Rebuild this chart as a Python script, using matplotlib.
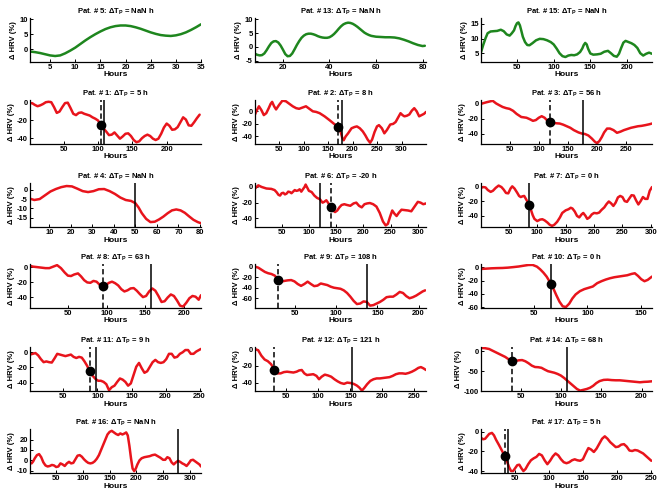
import matplotlib
matplotlib.use("Agg")
import matplotlib.pyplot as plt

plt.rcParams['font.family'] = ['Liberation Sans', 'DejaVu Sans']
plt.rcParams['font.weight'] = 'bold'
plt.rcParams['axes.unicode_minus'] = False

# ---------------- data ----------------
h5 = [1, 2, 3, 4, 5, 6, 7, 8, 9, 10, 11, 12, 13, 14, 15, 16, 17, 18, 19, 20,
      21, 22, 23, 24, 25, 26, 27, 28, 29, 30, 31, 32, 33, 34, 35]
y5 = [-0.7, -0.9, -1.2, -1.6, -2.0, -2.2, -2.0, -1.3, -0.4, 0.6, 1.8, 3.0, 4.1, 5.1, 6.0, 6.8, 7.4, 7.8, 8.0, 8.0,
      7.8, 7.4, 6.9, 6.3, 5.7, 5.2, 4.8, 4.6, 4.5, 4.7, 5.1, 5.7, 6.5, 7.4, 8.4]

h13 = [8, 9, 10, 11, 12, 13, 14, 15, 16, 17, 18, 19, 20, 21, 22, 23, 24, 25, 26, 27,
       28, 29, 30, 31, 32, 33, 34, 35, 36, 37, 38, 39, 40, 41, 42, 43, 44, 45, 46, 47,
       48, 49, 50, 51, 52, 53, 54, 55, 56, 57, 58, 60, 62, 64, 66, 68, 70, 72, 74, 76,
       78, 80, 81]
y13 = [-2.5, -2.9, -3.1, -3.0, -2.4, -1.2, 0.2, 1.4, 2.0, 2.1, 1.6, 0.5, -1.0, -2.6, -3.4, -3.3, -2.4, -0.9, 0.7, 2.1,
       3.3, 4.1, 4.6, 4.8, 4.8, 4.6, 4.3, 3.9, 3.6, 3.4, 3.3, 3.3, 3.5, 4.0, 4.7, 5.6, 6.6, 7.5, 8.2, 8.6,
       8.8, 8.7, 8.4, 7.9, 7.3, 6.6, 5.9, 5.2, 4.7, 4.3, 4.0, 3.7, 3.6, 3.5, 3.5, 3.4, 3.1, 2.6, 2.0, 1.3,
       0.7, 0.3, 0.4]

h15 = [1, 4, 7, 10, 14, 18, 23, 28, 32, 36, 40, 43, 46, 48, 50, 52, 54, 56, 58, 61,
       64, 67, 71, 76, 81, 86, 91, 96, 100, 104, 108, 112, 116, 120, 124, 128, 132, 136, 139, 141,
       143, 145, 147, 150, 154, 159, 164, 169, 174, 178, 182, 186, 189, 192, 195, 198, 202, 206, 210, 214,
       218, 222, 226, 230, 234]
y15 = [5.3, 7.8, 10.0, 11.8, 12.4, 12.5, 12.6, 13.0, 12.5, 11.4, 11.0, 11.8, 12.8, 14.2, 15.2, 15.5, 14.5, 12.6, 10.6, 8.8,
       7.8, 7.7, 8.4, 9.4, 9.9, 9.8, 9.4, 8.8, 8.0, 6.6, 5.0, 4.0, 3.7, 4.2, 4.4, 4.3, 4.6, 5.4, 6.6, 7.8,
       8.5, 8.0, 6.5, 4.9, 4.5, 4.6, 4.8, 5.5, 5.8, 5.0, 4.1, 3.8, 4.8, 6.8, 8.6, 9.2, 8.8, 8.4, 7.8, 6.8,
       5.0, 4.2, 4.8, 5.2, 4.8]

h1 = [1, 4, 8, 12, 16, 20, 24, 28, 32, 36, 40, 44, 48, 52, 56, 60, 64, 68, 72, 76,
      80, 84, 88, 92, 96, 100, 104, 108, 112, 116, 120, 124, 128, 132, 136, 140, 144, 148, 152, 156,
      160, 164, 168, 172, 176, 180, 184, 188, 192, 196, 200, 204, 208, 212, 216, 220, 224, 228, 232, 236,
      240, 244, 248]
y1 = [-0.8, -0.5, -2.5, -4.0, -3.0, -1.5, 0.5, 1.0, 0.5, -5.0, -11.5, -10.0, -5.0, -0.5, 0.0, -6.0, -12.5, -14.0, -11.5, -11.0,
      -12.5, -13.5, -14.5, -16.5, -18.0, -20.0, -24.5, -29.0, -32.5, -36.5, -36.0, -33.5, -37.0, -40.5, -38.0, -35.0, -34.5, -37.5, -42.0, -44.5,
      -43.5, -40.0, -37.5, -36.0, -37.5, -40.5, -42.0, -40.5, -35.0, -28.0, -23.5, -26.0, -30.5, -30.0, -27.5, -22.0, -16.5, -19.0, -25.5, -26.0,
      -22.0, -17.5, -13.5]

h2 = [1, 5, 9, 14, 19, 24, 29, 33, 36, 40, 44, 50, 57, 64, 71, 78, 85, 91, 98, 105,
      112, 119, 126, 133, 143, 153, 164, 171, 176, 179, 182, 186, 191, 198, 204, 209, 215, 221, 226, 231,
      236, 240, 245, 250, 254, 260, 265, 270, 277, 283, 288, 293, 298, 302, 306, 311, 316, 321, 326, 331,
      336, 341, 346, 350]
y2 = [-5, 2, 8, 2, -6, -3, 5, 12, 15, 8, 3, 10, 17, 16, 12, 8, 5, 4, 6, 8,
      4, 0, -1, -3, -8, -14, -21, -26, -33, -42, -46, -40, -35, -27, -25, -24, -27, -32, -38, -45,
      -50, -45, -33, -24, -22, -27, -35, -30, -21, -20, -17, -10, -3, -6, -8, -7, -5, 1, 5, 0,
      -8, -6, -4, -1]

h3 = [1, 10, 21, 27, 33, 38, 44, 50, 56, 62, 70, 79, 85, 90, 95, 100, 105, 110, 115, 121,
      128, 136, 142, 148, 154, 160, 168, 174, 179, 185, 191, 196, 200, 204, 208, 212, 217, 222, 228, 234,
      240, 246, 252, 258, 264, 270, 276, 283, 289, 294]
y3 = [-1, 1, 3, -0.5, -3, -5, -6.5, -7.5, -10, -14, -18, -19, -21, -23, -22, -19, -17, -19, -23, -25,
      -26, -26.5, -28, -30, -32, -35, -38, -39.5, -40, -42, -46, -50, -52, -49, -44, -38, -33, -33, -35, -38.5,
      -37, -35, -33.5, -32, -31, -30, -29.5, -28.5, -27.5, -26.5]

h4 = [1, 3, 5.5, 8, 10.5, 13, 15.5, 18, 20.5, 23, 25.5, 28, 30.5, 33, 35.5, 38, 40.5, 43, 45.5, 48,
      50, 51.5, 53, 55, 57, 59, 61, 63, 65, 67, 69, 71, 73, 75, 77, 79, 80.5]
y4 = [-4.8, -5.5, -5.0, -3.0, -1.0, 0.3, 1.3, 1.9, 1.7, 0.5, -0.8, -1.3, -0.8, 0.2, 0.3, -0.8, -2.3, -4.2, -5.5, -6.0,
      -7.2, -9.5, -12.5, -15.5, -17.2, -17.0, -15.8, -14.3, -12.5, -11.0, -10.5, -11.0, -12.3, -14.2, -16.0, -17.2, -17.8]

h6 = [1, 7, 13, 22, 31, 37, 41, 44, 47, 50, 53, 56, 59, 62, 65, 68, 71, 74, 77, 80,
      83, 86, 89, 92, 94, 97, 100, 105, 110, 115, 120, 125, 128, 132, 136, 140, 144, 148, 152, 156,
      160, 165, 170, 176, 182, 187, 192, 197, 202, 207, 212, 218, 224, 230, 236, 241, 245, 249, 253, 257,
      261, 265, 270, 276, 282, 288, 294, 300, 305, 310, 315]
y6 = [-2, 2, 0, -2, -2.5, -4, -7, -10, -11, -8, -7.5, -9.5, -8.5, -6, -6.5, -8, -6, -4, -5, -4.5,
      -3, -6, -3, 0, 3, -1, -5, -6.5, -11, -14, -15.5, -20, -19, -17, -21, -25, -30, -32, -30, -26,
      -23, -22, -23, -24, -21, -20, -24, -26, -22, -21, -20.5, -22, -25, -33, -44, -49, -47, -38, -30, -34,
      -37, -33, -29, -29.5, -30, -31, -25, -19, -20, -22, -21]

h7 = [1, 5, 9, 13, 18, 22, 27, 32, 37, 41, 45, 49, 53, 56, 60, 65, 68, 71, 74, 77,
      80, 83, 86, 89, 92, 95, 100, 105, 109, 113, 118, 122, 126, 130, 135, 140, 144, 150, 155, 159,
      162, 166, 170, 174, 178, 181, 185, 188, 192, 196, 200, 205, 209, 213, 218, 222, 226, 230, 234, 238,
      242, 246, 250, 254, 258, 262, 266, 270, 274, 278, 282, 286, 290, 294, 298, 302]
y7 = [-2, -1, -1.5, -5, -7.5, -6, -2, 1, -1, -4.5, -9, -9.5, -3, 0, -3, -9, -13, -14.5, -13.5, -13,
      -17, -21, -25.5, -32, -39, -44, -47, -45, -44.5, -46, -49, -52, -53.5, -52, -48, -42, -36, -32.5, -31, -29,
      -30, -34, -40, -42, -38, -36, -40, -44, -42, -38, -36, -36.5, -35.5, -32, -28.5, -24, -20.5, -23, -26.5, -22,
      -15, -13, -14.5, -20, -21, -16.5, -12, -12.5, -19, -24.5, -20, -14.5, -17, -17, -6, -1]

h8 = [1, 5, 9, 13, 17, 21, 26, 31, 36, 41, 46, 50, 54, 58, 63, 67, 71, 75, 79, 83,
      87, 91, 95, 99, 103, 107, 111, 115, 119, 123, 127, 131, 135, 139, 143, 147, 151, 155, 159, 163,
      167, 171, 175, 179, 183, 187, 191, 195, 199, 203, 207, 211, 215, 219, 222]
y8 = [2, 1, 0.5, 0, -0.5, -1, -1, 1, 3, -1, -7, -11, -11.5, -9.5, -8, -12, -17, -20, -20.5, -18,
      -19, -23, -25.5, -23.5, -20.5, -19, -21, -24, -29, -32, -30.5, -28, -27.5, -31, -35.5, -39.5, -38, -32, -28, -31,
      -38, -46, -45, -40, -36, -38, -44, -51, -52, -47, -41, -38, -39, -43, -37]

h9 = [1, 5, 9, 13, 17, 21, 25, 29, 33, 37, 41, 45, 49, 53, 57, 61, 65, 69, 73, 77,
      81, 85, 89, 93, 97, 101, 105, 109, 113, 117, 121, 125, 129, 133, 137, 141, 145, 149, 153, 157,
      161, 165, 169, 173, 177, 181, 185, 189, 193, 197, 201, 205, 208]
y9 = [0, -2, -6, -10, -12.5, -14, -17, -24, -28.5, -27, -26, -25.5, -28, -33, -36.5, -33, -28.5, -33, -37, -36,
      -32, -33.5, -35, -38, -40, -41, -42, -45, -50, -57, -65, -71, -70, -66, -67, -74, -73, -70, -67, -63,
      -58, -57, -57, -53, -48, -50, -56, -60, -58, -55, -51, -47, -45]

h10 = [1, 6, 11, 16, 21, 26, 31, 36, 41, 45, 49, 53, 56, 59, 62, 65, 68, 71, 74, 77,
       80, 83, 86, 89, 93, 97, 101, 105, 109, 113, 117, 121, 125, 129, 133, 137, 141, 144, 147, 150,
       153, 156, 160]
y10 = [-2.5, -2, -1.5, -1.2, -1, -0.5, 0.3, 1.2, 2.5, 3.5, 3.6, 1, -3, -8, -14, -22, -31, -42, -52, -59,
       -60, -55, -47, -41, -36, -33, -31, -29, -24, -21, -18.5, -16.5, -15, -14, -13, -12, -10, -9, -13, -18,
       -21, -19, -14]

h11 = [1, 5, 9, 13, 17, 21, 25, 29, 33, 37, 41, 45, 49, 53, 57, 61, 65, 69, 73, 77,
       81, 85, 89, 93, 97, 101, 105, 109, 113, 117, 121, 125, 129, 133, 137, 141, 145, 149, 153, 157,
       161, 165, 169, 173, 177, 181, 185, 189, 193, 197, 201, 205, 209, 213, 217, 221, 225, 229, 233, 237,
       241, 245, 249, 252]
y11 = [-3, -2, -1, -4, -9, -13, -12, -13, -13.5, -8, -2, -3, -4, -5, -4, -3, -6, -7.5, -6, -7,
       -12, -18, -26, -31, -35, -37.5, -37.5, -39, -42, -50, -46, -44, -39, -34.5, -36, -39, -44, -41, -30, -19,
       -14, -21, -27, -25, -19, -13, -10, -13, -14, -13, -9, -2, -2, -7, -6, -2, 0, 3, 3, -2,
       -2, 1, 3, 4.5]

h12 = [1, 6, 11, 16, 21, 26, 31, 36, 41, 46, 51, 56, 61, 66, 70, 74, 78, 82, 87, 92,
       97, 101, 105, 110, 115, 120, 125, 130, 135, 140, 145, 150, 155, 160, 164, 168, 172, 176, 181, 186,
       191, 196, 201, 206, 211, 216, 221, 226, 231, 236, 241, 246, 251, 256, 260, 264, 268]
y12 = [0, -1.5, -8, -12.5, -14.5, -18, -24, -29, -29, -27.5, -27, -27.5, -28, -27, -25.5, -25, -29, -31, -30.5, -30,
       -32, -36, -33, -30.5, -31.5, -33, -36, -38.5, -40.5, -41.5, -40, -40.5, -41.5, -43.5, -46, -49.5, -46, -42, -38, -36,
       -35, -35, -34.5, -34, -33.5, -32, -30, -29, -29, -29.5, -28.5, -27, -25, -22.5, -21.5, -23, -25]

h14 = [1, 6, 11, 16, 21, 26, 31, 36, 40, 44, 48, 52, 56, 60, 64, 68, 72, 76, 80, 84,
       88, 92, 96, 100, 104, 108, 112, 116, 120, 124, 128, 132, 136, 140, 144, 148, 153, 158, 163, 168,
       173, 178, 183, 188, 193, 198, 203, 208, 213]
y14 = [9, 8, 6, 1, -4, -9, -14, -21, -26, -24, -22.5, -22, -25, -30, -36, -39.5, -40, -41.5, -46, -50,
       -52, -54, -57, -61, -67, -74, -81, -88, -95, -99, -97, -95, -92, -87, -80, -75, -72, -71.5, -72.5, -73,
       -73, -74, -75, -76, -77, -78, -77, -76.5, -75.5]

h16 = [1, 4, 7, 10, 14, 18, 22, 26, 30, 34, 38, 42, 46, 50, 54, 58, 62, 66, 70, 74,
       78, 82, 86, 90, 94, 98, 102, 106, 110, 114, 118, 122, 126, 130, 134, 138, 142, 146, 150, 154,
       158, 162, 166, 170, 174, 178, 181, 184, 187, 190, 193, 196, 199, 202, 206, 210, 215, 220, 225, 230,
       235, 240, 245, 250, 254, 258, 262, 266, 270, 274, 278, 282, 286, 290, 294, 298, 302, 306, 310, 314,
       318, 321]
y16 = [-2, -3, -1, 2, 5, 6, 3, -2, -5, -6, -5.5, -4.5, -5, -6.5, -6, -3, -4, -5.5, -3, -1.5,
       -3, -2.5, 1, 4.5, 5, 3.5, 1, -1, -2.5, -3, -2.5, -1, 1.5, 5, 10, 15, 20, 25, 27.5, 28.5,
       27, 25.5, 24.5, 26, 25, 26, 27, 24, 14, 2, -8, -10.5, -8, -4, 0, 2, 3, 3.5, 4, 5,
       5.5, 4, 2.5, 0.5, 0.5, 3, 2, -2, -4, -2, -0.5, -1.5, -3, -4, -5.5, -3, 0, 0.5, -1, -2.5,
       -4, -6]

h17 = [1, 4, 7, 10, 13, 17, 20, 23, 27, 30, 33, 36, 39, 42, 45, 48, 51, 54, 57, 60,
       63, 66, 70, 74, 78, 82, 86, 90, 94, 98, 102, 106, 110, 114, 118, 122, 126, 130, 134, 138,
       142, 146, 150, 154, 158, 162, 166, 170, 174, 178, 182, 186, 190, 194, 198, 202, 206, 210, 214, 218,
       222, 226, 230, 234, 238, 242, 246, 250]
y17 = [-6, -7.5, -7, -4.5, -2, -1, -3.5, -8, -13, -17, -21, -25, -30, -36, -40, -40, -37, -34, -33.5, -37,
       -40, -38, -33, -29, -27, -25.5, -22.5, -24, -29, -33, -29.5, -25, -22, -24, -28, -31, -32, -31, -29, -28,
       -29, -29.5, -28, -22, -16.5, -18, -20.5, -17, -12, -7, -4.5, -7, -10.5, -13, -15.5, -15, -13, -12.5, -15, -19,
       -19.5, -18.5, -19, -20.5, -22, -24.5, -27, -29.5]

# patient ids in panel order (row-major, None = empty slot)
panel_ids = [5, 13, 15, 1, 2, 3, 4, 6, 7, 8, 9, 10, 11, 12, 14, 16, None, 17]
series = {5: (h5, y5), 13: (h13, y13), 15: (h15, y15), 1: (h1, y1), 2: (h2, y2), 3: (h3, y3),
          4: (h4, y4), 6: (h6, y6), 7: (h7, y7), 8: (h8, y8), 9: (h9, y9), 10: (h10, y10),
          11: (h11, y11), 12: (h12, y12), 14: (h14, y14), 16: (h16, y16), 17: (h17, y17)}
green_ids = [5, 13, 15]
delta_tp = {5: 'NaN', 13: 'NaN', 15: 'NaN', 1: '5', 2: '8', 3: '56', 4: 'NaN', 6: '-20', 7: '0',
            8: '63', 9: '108', 10: '0', 11: '9', 12: '121', 14: '68', 16: 'NaN', 17: '5'}
dashed_hour = {1: 104, 2: 170, 3: 120, 6: 140, 8: 95, 9: 29, 11: 89, 12: 31, 14: 40, 17: 36}
solid_hour = {1: 109, 2: 178, 3: 176, 4: 50, 6: 120, 7: 86, 8: 158, 9: 137, 10: 66, 11: 98,
              12: 152, 14: 108, 16: 278, 17: 41}
dot_hour = {1: 104, 2: 170, 3: 120, 6: 140, 7: 86, 8: 95, 9: 29, 10: 66, 11: 89, 12: 31, 14: 40, 17: 36}
dot_value = -25

xlims = {5: (1, 35), 13: (8, 81.5), 15: (1, 234), 1: (1, 250), 2: (1, 350), 3: (1, 294), 4: (1, 80.5),
         6: (1, 315), 7: (1, 302), 8: (1, 222), 9: (1, 209), 10: (1, 160), 11: (1, 252), 12: (1, 268),
         14: (1, 213), 16: (1, 321), 17: (1, 251)}
ylims = {5: (-4.2, 10.5), 13: (-5.5, 10.5), 15: (2, 17), 1: (-46.5, 3), 2: (-52, 18), 3: (-53, 4),
         4: (-19.8, 3.5), 6: (-51, 5), 7: (-55, 4.5), 8: (-54, 4.5), 9: (-78.5, 5), 10: (-61.5, 5),
         11: (-51, 7), 12: (-50, 2.4), 14: (-100, 11), 16: (-12.3, 30.3), 17: (-42, 3)}
xticks = {5: [5, 10, 15, 20, 25, 30, 35], 13: [20, 40, 60, 80], 15: [50, 100, 150, 200],
          1: [50, 100, 150, 200], 2: [50, 100, 150, 200, 250, 300], 3: [50, 100, 150, 200, 250],
          4: [10, 20, 30, 40, 50, 60, 70, 80], 6: [50, 100, 150, 200, 250, 300],
          7: [50, 100, 150, 200, 250, 300], 8: [50, 100, 150, 200], 9: [50, 100, 150, 200],
          10: [50, 100, 150], 11: [50, 100, 150, 200, 250], 12: [50, 100, 150, 200, 250],
          14: [50, 100, 150, 200], 16: [50, 100, 150, 200, 250, 300], 17: [50, 100, 150, 200, 250]}
yticks = {5: [0, 5, 10], 13: [-5, 0, 5, 10], 15: [5, 10, 15], 1: [-40, -20, 0], 2: [-40, -20, 0],
          3: [-40, -20, 0], 4: [-15, -10, -5, 0], 6: [-40, -20, 0], 7: [-40, -20, 0], 8: [-40, -20, 0],
          9: [-60, -40, -20, 0], 10: [-60, -40, -20, 0], 11: [-40, -20, 0], 12: [-40, -20, 0],
          14: [-100, -50, 0], 16: [-10, 0, 10, 20], 17: [-40, -20, 0]}

# ---------------- figure ----------------
fig = plt.figure(figsize=(6.61, 4.96), dpi=100)
lefts = [30 / 661, 255 / 661, 481 / 661]
width = 171 / 661
bottoms_px = [62, 144, 227, 308, 391, 473]
height = 44 / 496
fs = 5.5

for idx, pid in enumerate(panel_ids):
    if pid is None:
        continue
    r, c = divmod(idx, 3)
    ax = fig.add_axes([lefts[c], 1 - bottoms_px[r] / 496, width, height])
    hx, hy = series[pid]
    color = '#1e861e' if pid in green_ids else '#e8141c'
    ax.plot(hx, hy, color=color, lw=1.8, solid_joinstyle='round', solid_capstyle='round', zorder=2)
    if pid in solid_hour:
        ax.axvline(solid_hour[pid], color='black', lw=1.1, zorder=3)
    if pid in dashed_hour:
        ax.axvline(dashed_hour[pid], color='black', lw=1.1, ls=(0, (3.5, 2)), zorder=3)
    if pid in dot_hour:
        ax.plot([dot_hour[pid]], [dot_value], 'o', color='black', ms=6, zorder=4)
    ax.set_xlim(*xlims[pid])
    ax.set_ylim(*ylims[pid])
    ax.set_xticks(xticks[pid])
    ax.set_yticks(yticks[pid])
    for s in ['top', 'right']:
        ax.spines[s].set_visible(False)
    for s in ['left', 'bottom']:
        ax.spines[s].set_linewidth(0.9)
    ax.tick_params(direction='in', length=2, width=0.7, labelsize=fs, pad=1.5)
    for lab in ax.get_xticklabels() + ax.get_yticklabels():
        lab.set_fontweight('bold')
    ax.set_xlabel('Hours', fontsize=fs + 0.5, fontweight='bold', labelpad=0.3)
    ax.set_ylabel('Δ HRV (%)', fontsize=fs, fontweight='bold', labelpad=1.5)
    ax.set_title('Pat. # %d: ΔT$_\\mathregular{P}$ = %s h' % (pid, delta_tp[pid]),
                 fontsize=fs, fontweight='bold', pad=3)

fig.savefig('out.png', dpi=100)
